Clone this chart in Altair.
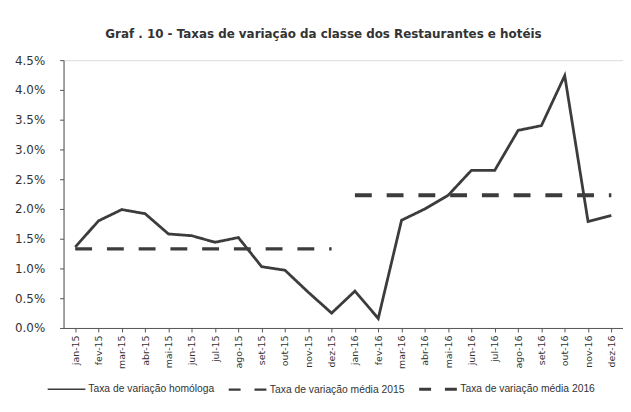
import altair as alt
import pandas as pd

months = ["jan-15", "fev-15", "mar-15", "abr-15", "mai-15", "jun-15", "jul-15", "ago-15",
          "set-15", "out-15", "nov-15", "dez-15", "jan-16", "fev-16", "mar-16", "abr-16",
          "mai-16", "jun-16", "jul-16", "ago-16", "set-16", "out-16", "nov-16", "dez-16"]
homologa = [1.36, 1.80, 1.99, 1.92, 1.58, 1.55, 1.44, 1.52, 1.03, 0.97, 0.60, 0.25,
            0.62, 0.16, 1.81, 2.00, 2.23, 2.65, 2.65, 3.32, 3.40, 4.24, 1.79, 1.89]
media_2015 = 1.33
media_2016 = 2.23

s1 = "Taxa de variação homóloga"
s2 = "Taxa de variação média 2015"
s3 = "Taxa de variação média 2016"

rows = []
for m, v in zip(months, homologa):
    rows.append({"mes": m, "serie": s1, "valor": v / 100})
for m in months[:12]:
    rows.append({"mes": m, "serie": s2, "valor": media_2015 / 100})
for m in months[12:]:
    rows.append({"mes": m, "serie": s3, "valor": media_2016 / 100})
df = pd.DataFrame(rows)

series = [s1, s2, s3]
INK = "#3c3c3c"

x_enc = alt.X("mes:N", sort=months, title=None,
              scale=alt.Scale(paddingInner=0, paddingOuter=0),
              axis=alt.Axis(labelAngle=-90, labelFont="DejaVu Sans", labelFontSize=9.5,
                            labelColor="#333333", domainColor="#555555", tickColor="#555555",
                            tickSize=4, bandPosition=0, labelPadding=3,
                            grid=False, labelBaseline="middle"))
y_enc = alt.Y("valor:Q", title=None,
              scale=alt.Scale(domain=[0, 0.045]),
              axis=alt.Axis(format=".1%", values=[i * 0.005 for i in range(10)],
                            labelFont="DejaVu Sans", labelFontSize=12, labelColor="#333333",
                            domainColor="#555555", tickColor="#555555", tickSize=4,
                            labelPadding=15, grid=False))

base = alt.Chart(df)

lines = base.mark_line(strokeCap="butt", color=INK).encode(
    x=x_enc, y=y_enc, detail="serie:N",
    strokeDash=alt.StrokeDash("serie:N", sort=series,
                              scale=alt.Scale(domain=series, range=[[1, 0], [17, 15], [17, 15]]),
                              legend=None),
    strokeWidth=alt.StrokeWidth("serie:N", sort=series,
                                scale=alt.Scale(domain=series, range=[2.8, 4, 4]),
                                legend=None),
)

legend = alt.Legend(
    title=None, orient="none", direction="horizontal", legendX=-17, legendY=311,
    symbolType="stroke", symbolSize=1444, symbolStrokeColor=INK,
    labelFont="Liberation Sans", labelFontSize=10.4, labelColor="#333333",
    columnPadding=8, labelOffset=2,
)

legend_layer = base.transform_filter("false").mark_line(strokeCap="butt", color=INK).encode(
    x=x_enc, y=y_enc,
    strokeDash=alt.StrokeDash("serie:N", sort=series, title=None,
                              scale=alt.Scale(domain=series, range=[[1, 0], [12, 14], [12, 14]]),
                              legend=legend),
    strokeWidth=alt.StrokeWidth("serie:N", sort=series, title=None,
                                scale=alt.Scale(domain=series, range=[1.6, 3, 3]),
                                legend=legend),
)

chart = alt.layer(lines, legend_layer).resolve_scale(
    strokeDash="independent", strokeWidth="independent"
).properties(
    width=564, height=270,
    padding={"top": 19, "left": 6, "right": 0, "bottom": 2},
    title=alt.TitleParams("Graf . 10 - Taxas de variação da classe dos Restaurantes e hotéis",
                          font="DejaVu Sans", fontSize=12, fontWeight="bold",
                          color="#333333", anchor="middle", offset=13, dx=-20),
).configure_view(stroke=None).configure(background="white")

chart.save("out.html", embed_options={"renderer": "svg", "actions": False})
